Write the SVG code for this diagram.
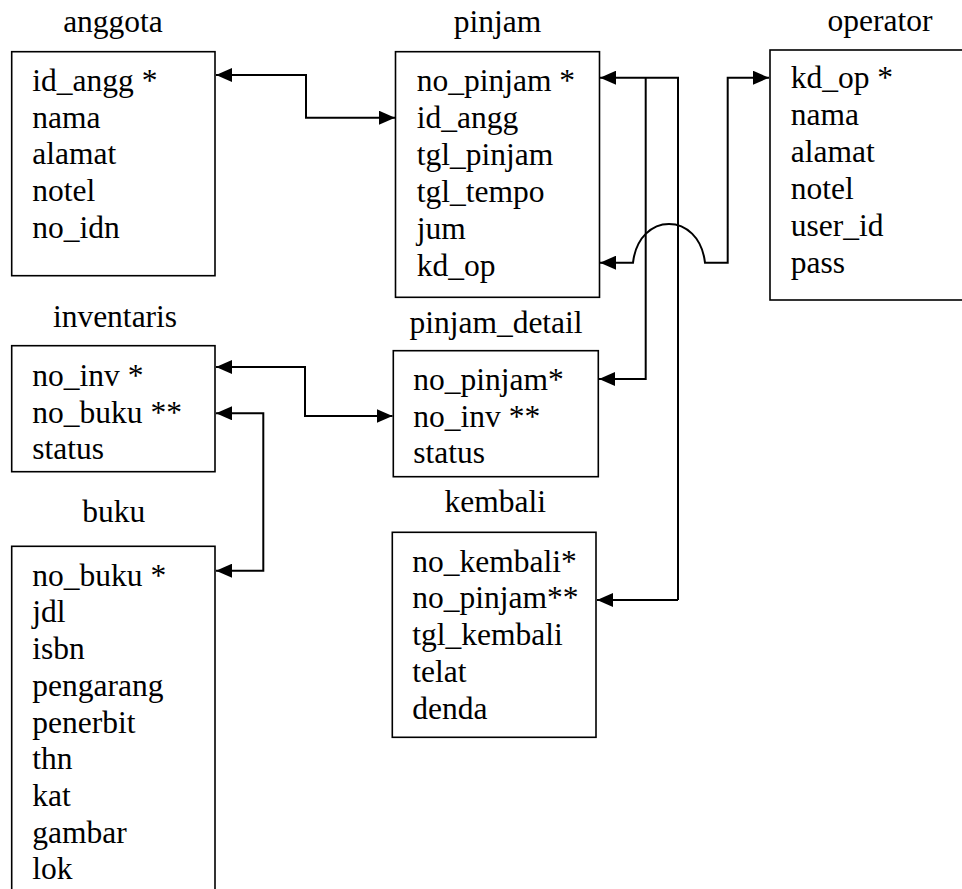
<svg xmlns="http://www.w3.org/2000/svg" width="962" height="889" viewBox="0 0 962 889">
<style>
.box{fill:#fff;stroke:#000;stroke-width:1.6}
.t{font-family:'Liberation Serif','Times New Roman',serif;font-size:31.5px;fill:#000}
.title{text-anchor:middle}
.c{fill:none;stroke:#000;stroke-width:2}
</style>
<defs>
<marker id="ah" markerUnits="userSpaceOnUse" markerWidth="16" markerHeight="14" refX="16" refY="7" orient="auto-start-reverse">
<path d="M0,0 L16,7 L0,14 z" fill="#000"/>
</marker>
</defs>
<rect width="962" height="889" fill="#fff"/>

<g id="anggota">
<text class="t title" x="113" y="32">anggota</text>
<rect class="box" x="11.7" y="51.7" width="203.3" height="224"/>
<text class="t" x="32.3" y="90.7">id_angg *</text>
<text class="t" x="32.3" y="127.5">nama</text>
<text class="t" x="32.3" y="164.3">alamat</text>
<text class="t" x="32.3" y="201.1">notel</text>
<text class="t" x="32.3" y="237.9">no_idn</text>
</g>

<g id="pinjam">
<text class="t title" x="497.5" y="31.7">pinjam</text>
<rect class="box" x="395.5" y="51.7" width="204" height="245.6"/>
<text class="t" x="416.7" y="90.7">no_pinjam *</text>
<text class="t" x="416.7" y="127.7">id_angg</text>
<text class="t" x="416.7" y="164.7">tgl_pinjam</text>
<text class="t" x="416.7" y="201.7">tgl_tempo</text>
<text class="t" x="416.7" y="238.7">jum</text>
<text class="t" x="416.7" y="275.7">kd_op</text>
</g>

<g id="operator">
<text class="t title" x="880" y="31">operator</text>
<rect class="box" x="770" y="50" width="222" height="250"/>
<text class="t" x="790.7" y="88.3">kd_op *</text>
<text class="t" x="790.7" y="125.2">nama</text>
<text class="t" x="790.7" y="162.1">alamat</text>
<text class="t" x="790.7" y="199">notel</text>
<text class="t" x="790.7" y="235.9">user_id</text>
<text class="t" x="790.7" y="272.7">pass</text>
</g>

<g id="inventaris">
<text class="t title" x="115" y="326.7">inventaris</text>
<rect class="box" x="11.7" y="345.7" width="203.3" height="126"/>
<text class="t" x="32.3" y="386">no_inv *</text>
<text class="t" x="32.3" y="422.5">no_buku **</text>
<text class="t" x="32.3" y="459">status</text>
</g>

<g id="buku">
<text class="t title" x="113.8" y="521.7">buku</text>
<rect class="box" x="11.7" y="546.3" width="203.3" height="360"/>
<text class="t" x="32.3" y="585.7">no_buku *</text>
<text class="t" x="32.3" y="622.4">jdl</text>
<text class="t" x="32.3" y="659.1">isbn</text>
<text class="t" x="32.3" y="695.8">pengarang</text>
<text class="t" x="32.3" y="732.5">penerbit</text>
<text class="t" x="32.3" y="769.2">thn</text>
<text class="t" x="32.3" y="805.9">kat</text>
<text class="t" x="32.3" y="842.6">gambar</text>
<text class="t" x="32.3" y="879.3">lok</text>
</g>

<g id="pinjam_detail">
<text class="t title" x="496" y="333.3">pinjam_detail</text>
<rect class="box" x="393.3" y="350.7" width="205" height="126"/>
<text class="t" x="413.3" y="390">no_pinjam*</text>
<text class="t" x="413.3" y="426.5">no_inv **</text>
<text class="t" x="413.3" y="463">status</text>
</g>

<g id="kembali">
<text class="t title" x="495.3" y="512">kembali</text>
<rect class="box" x="392.3" y="532.3" width="203.7" height="205"/>
<text class="t" x="412.3" y="571.7">no_kembali*</text>
<text class="t" x="412.3" y="608.4">no_pinjam**</text>
<text class="t" x="412.3" y="645.1">tgl_kembali</text>
<text class="t" x="412.3" y="681.8">telat</text>
<text class="t" x="412.3" y="718.5">denda</text>
</g>

<g id="connectors">
<path class="c" d="M216 75 H306 V117.7 H395" marker-start="url(#ah)" marker-end="url(#ah)"/>
<path class="c" d="M678 600 V77.7 H600" marker-end="url(#ah)"/>
<path class="c" d="M645.7 77.7 V379 H599" marker-end="url(#ah)"/>
<path class="c" d="M678 600 H597" marker-end="url(#ah)"/>
<path class="c" d="M769 77.7 H727.7 V262.7 H705 C699 211 639 211 633 262.7 H600" marker-start="url(#ah)" marker-end="url(#ah)"/>
<path class="c" d="M216 367 H305 V416 H392.5" marker-start="url(#ah)" marker-end="url(#ah)"/>
<path class="c" d="M216 413.3 H263.3 V570.7 H216" marker-start="url(#ah)" marker-end="url(#ah)"/>
</g>
</svg>
